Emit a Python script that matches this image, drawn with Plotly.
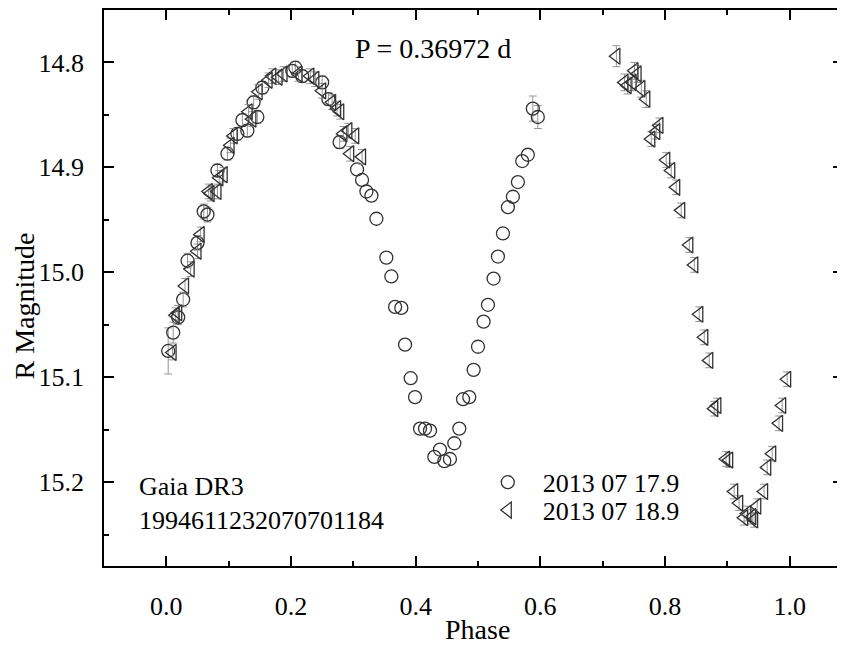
import plotly.graph_objects as go

# 2013 07 17.9 (circles)
phase_a = [0.003, 0.011, 0.019, 0.027, 0.034, 0.050, 0.060, 0.066, 0.082, 0.098,
           0.114, 0.122, 0.130, 0.140, 0.146, 0.154, 0.202, 0.207, 0.218, 0.250,
           0.260, 0.278, 0.306, 0.314, 0.321, 0.329, 0.337, 0.353, 0.361, 0.367,
           0.377, 0.383, 0.392, 0.399, 0.407, 0.415, 0.423, 0.430, 0.439, 0.446,
           0.455, 0.462, 0.470, 0.476, 0.486, 0.493, 0.500, 0.509, 0.516, 0.525,
           0.532, 0.540, 0.548, 0.556, 0.564, 0.571, 0.580, 0.588, 0.596]
mag_a = [15.075, 15.0575, 15.043, 15.026, 14.989, 14.972, 14.942, 14.945, 14.903, 14.887,
         14.868, 14.855, 14.865, 14.838, 14.852, 14.824, 14.808, 14.805, 14.813, 14.819,
         14.835, 14.876, 14.902, 14.912, 14.923, 14.927, 14.949, 14.986, 15.004, 15.033,
         15.034, 15.069, 15.101, 15.119, 15.149, 15.149, 15.151, 15.176, 15.169, 15.180,
         15.178, 15.163, 15.149, 15.121, 15.119, 15.093, 15.071, 15.047, 15.031, 15.006,
         14.985, 14.963, 14.938, 14.928, 14.914, 14.894, 14.888, 14.844, 14.852]
# None = error bar hidden inside the marker
err_a = [0.022, 0.010, 0.007, 0.007, 0.007, 0.007, 0.007, 0.007, 0.006, 0.006,
         0.006, 0.006, 0.006, 0.006, 0.006, 0.006, 0.006, 0.006, 0.006, 0.006,
         0.006, 0.006, None, None, None, None, None, None, None, None,
         None, None, None, None, None, None, None, None, None, None,
         None, None, None, None, None, None, None, None, None, None,
         None, None, None, None, None, None, None, 0.012, 0.011]

# 2013 07 18.9 (left triangles)
phase_b = [0.010, 0.015, 0.019, 0.030, 0.039, 0.050, 0.055, 0.068, 0.071, 0.082,
           0.085, 0.092, 0.103, 0.108, 0.132, 0.138, 0.148, 0.164, 0.170, 0.180,
           0.188, 0.212, 0.231, 0.239, 0.250, 0.266, 0.274, 0.279, 0.284, 0.292,
           0.295, 0.303, 0.314,
           0.722, 0.735, 0.740, 0.748, 0.751, 0.756, 0.762, 0.770, 0.778, 0.786,
           0.791, 0.802, 0.810, 0.818, 0.826, 0.839, 0.847, 0.855, 0.863, 0.871,
           0.879, 0.884, 0.898, 0.903, 0.911, 0.919, 0.927, 0.932, 0.940, 0.943,
           0.948, 0.959, 0.964, 0.972, 0.983, 0.988, 0.996]
mag_b = [15.0765, 15.041, 15.0386, 15.013, 14.997, 14.980, 14.964, 14.923, 14.925, 14.923,
         14.910, 14.907, 14.879, 14.870, 14.847, 14.854, 14.828, 14.817, 14.813, 14.814,
         14.811, 14.811, 14.813, 14.816, 14.827, 14.838, 14.844, 14.847, 14.868, 14.865,
         14.887, 14.870, 14.890,
         14.794, 14.819, 14.822, 14.819, 14.808, 14.811, 14.825, 14.835, 14.873, 14.866,
         14.860, 14.893, 14.903, 14.919, 14.941, 14.974, 14.993, 15.040, 15.062, 15.084,
         15.130, 15.127, 15.178, 15.179, 15.209, 15.220, 15.234, 15.230, 15.233, 15.236,
         15.223, 15.209, 15.186, 15.173, 15.144, 15.127, 15.102]
err_b = [0.007] * 33 + [0.010, 0.008, 0.008, 0.008, 0.008, 0.008, 0.008, 0.008, 0.007, 0.007,
                        0.007, 0.007, 0.007, 0.007, 0.007, 0.007, 0.007, 0.007, 0.007, 0.007,
                        0.007, 0.007, 0.007, 0.007, 0.007, 0.007, 0.007, 0.007, 0.007, 0.007,
                        0.007, 0.007, 0.007, 0.007, 0.007, 0.007, 0.007]

x_ticks = [0.0, 0.2, 0.4, 0.6, 0.8, 1.0]
y_ticks = [14.8, 14.9, 15.0, 15.1, 15.2]

FONT = "Liberation Serif, Times New Roman, serif"
INK = "#333333"
ERR = "#8a8a8a"

# circles that carry a visible error bar
idx_a = [i for i, e in enumerate(err_a) if e is not None]

fig = go.Figure()
fig.add_trace(go.Scatter(
    x=[phase_a[i] for i in idx_a], y=[mag_a[i] for i in idx_a], mode="markers",
    showlegend=False, hoverinfo="skip",
    marker=dict(symbol="circle-open", size=13, color="rgba(0,0,0,0)", line=dict(width=0)),
    error_y=dict(type="data", array=[err_a[i] for i in idx_a], color=ERR, thickness=0.9, width=4),
))
fig.add_trace(go.Scatter(
    x=phase_a, y=mag_a, mode="markers", name="2013 07 17.9", legend="legend",
    marker=dict(symbol="circle-open", size=13, color=INK, line=dict(width=1.3, color=INK)),
))
fig.add_trace(go.Scatter(
    x=phase_b, y=mag_b, mode="markers", name="2013 07 18.9", legend="legend2",
    marker=dict(symbol="triangle-left-open", size=14, color=INK, line=dict(width=1.3, color=INK)),
    error_y=dict(type="data", array=err_b, color=ERR, thickness=0.9, width=4),
))

axis_common = dict(
    showline=True, linecolor="black", linewidth=1.6, mirror="ticks",
    ticks="inside", ticklen=10, tickwidth=1.5, tickcolor="black",
    showgrid=False, zeroline=False,
    tickfont=dict(family=FONT, size=26, color="black"),
)

fig.update_xaxes(
    range=[-0.1, 1.0856], tickvals=x_ticks, ticktext=["0.0", "0.2", "0.4", "0.6", "0.8", "1.0"],
    minor=dict(ticks="inside", ticklen=5, tickwidth=1.5, tickcolor="black", dtick=0.1, tick0=0),
    ticklabelstandoff=16,
    **axis_common,
)
fig.update_yaxes(
    range=[15.28, 14.75], tickvals=y_ticks, ticktext=["14.8", "14.9", "15.0", "15.1", "15.2"],
    minor=dict(ticks="inside", ticklen=5, tickwidth=1.5, tickcolor="black", dtick=0.05, tick0=14.75),
    ticklabelstandoff=13,
    **axis_common,
)

fig.add_annotation(text="P = 0.36972 d", xref="paper", yref="paper", x=0.445, y=0.930,
                   xanchor="center", yanchor="middle", showarrow=False,
                   font=dict(family=FONT, size=28, color="black"))
fig.add_annotation(text="Gaia DR3<br>1994611232070701184", xref="paper", yref="paper",
                   x=0.0445, y=0.172, xanchor="left", yanchor="top", align="left", showarrow=False,
                   font=dict(family=FONT, size=26, color="black"))
fig.add_annotation(text="Phase", xref="paper", yref="paper", x=0.505, y=-0.1147,
                   xanchor="center", yanchor="middle", showarrow=False,
                   font=dict(family=FONT, size=28, color="black"))
fig.add_annotation(text="R Magnitude", xref="paper", yref="paper", x=-0.108, y=0.467,
                   xanchor="center", yanchor="middle", showarrow=False, textangle=-90,
                   font=dict(family=FONT, size=28, color="black"))

legend_common = dict(xanchor="left", yanchor="middle", itemwidth=60,
                     bgcolor="rgba(0,0,0,0)", font=dict(family=FONT, size=26, color="black"))

fig.update_layout(
    width=837, height=638,
    margin=dict(l=96, r=0, t=0, b=80),
    paper_bgcolor="white", plot_bgcolor="white",
    showlegend=True,
    legend=dict(x=0.499, y=0.1505, **legend_common),
    legend2=dict(x=0.499, y=0.1004, **legend_common),
)

fig.write_html("out.html")
